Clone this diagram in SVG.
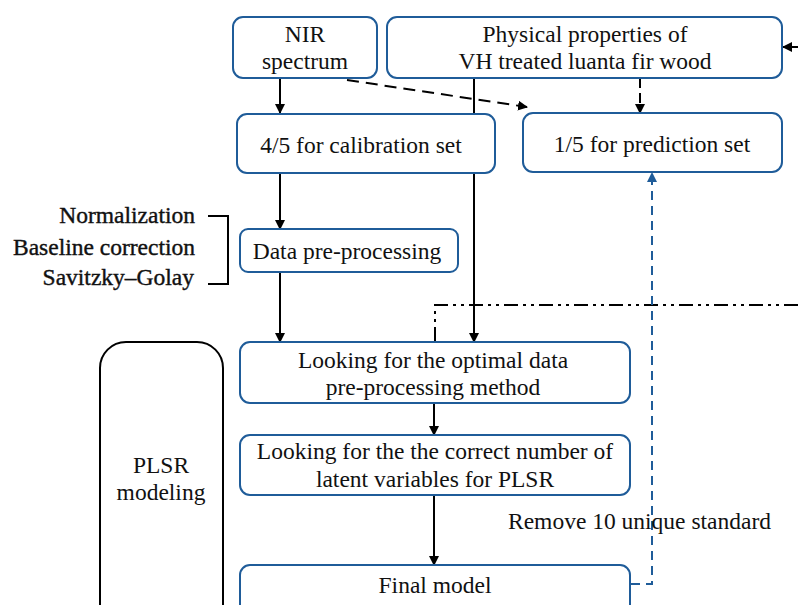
<svg xmlns="http://www.w3.org/2000/svg" width="798" height="605" viewBox="0 0 798 605">
<defs>
<style>
.box{fill:#fff;stroke:#1f5c99;stroke-width:2}
.t{font-family:"Liberation Serif",serif;font-size:23.5px;fill:#111}
.c{text-anchor:middle}
.r{text-anchor:end;stroke:#111;stroke-width:0.4}
.ln{fill:none;stroke:#000;stroke-width:2}
.bl{fill:none;stroke:#1f5c99;stroke-width:2;stroke-dasharray:9,6}
</style>
<marker id="ah" markerWidth="10" markerHeight="10" refX="9" refY="5" orient="auto" markerUnits="userSpaceOnUse">
<path d="M0,0 L10,5 L0,10 z" fill="#000"/>
</marker>
<marker id="ahb" markerWidth="10" markerHeight="10" refX="9" refY="5" orient="auto" markerUnits="userSpaceOnUse">
<path d="M0,0 L10,5 L0,10 z" fill="#1f5c99"/>
</marker>
</defs>
<g id="connectors">
<path class="ln" d="M280,78 V113" marker-end="url(#ah)"/>
<path class="ln" d="M474,78 V342" marker-end="url(#ah)"/>
<path class="ln" d="M347,80 L527,107" stroke-dasharray="12,7" marker-end="url(#ah)"/>
<path class="ln" d="M640,78 V113" stroke-dasharray="10,5" marker-end="url(#ah)"/>
<path class="ln" d="M798,47 H783" marker-end="url(#ah)"/>
<path class="ln" d="M280,173 V229" marker-end="url(#ah)"/>
<path class="ln" d="M280,272 V342" marker-end="url(#ah)"/>
<path class="ln" d="M208,216 H228 V284 H208"/>
<path class="ln" d="M798,305 H435 V342" stroke-dasharray="14,5,3,5,3,5"/>
<path class="ln" d="M434,403 V435" marker-end="url(#ah)"/>
<path class="ln" d="M434,495 V565" marker-end="url(#ah)"/>
<path class="bl" d="M631,584 H652 V173" marker-end="url(#ahb)"/>
</g>
<g id="nir"><rect class="box" x="233" y="17" width="144" height="61" rx="10"/>
<text class="t c" x="305" y="42">NIR</text><text class="t c" x="305" y="69">spectrum</text></g>
<g id="physical"><rect class="box" x="387" y="17" width="395" height="61" rx="10"/>
<text class="t c" x="585" y="42">Physical properties of</text><text class="t c" x="585" y="69">VH treated luanta fir wood</text></g>
<g id="calib"><rect class="box" x="237" y="114" width="258" height="59" rx="10"/>
<text class="t c" x="361" y="153">4/5 for calibration set</text></g>
<g id="pred"><rect class="box" x="523" y="113" width="259" height="59" rx="10"/>
<text class="t c" x="652" y="152">1/5 for prediction set</text></g>
<g id="preproc"><rect class="box" x="240" y="229" width="218" height="43" rx="8"/>
<text class="t c" x="347" y="259">Data pre-processing</text></g>
<g id="methods">
<text class="t r" x="195" y="223">Normalization</text>
<text class="t r" x="195" y="255">Baseline correction</text>
<text class="t r" x="194" y="285">Savitzky–Golay</text></g>
<g id="optimal"><rect class="box" x="240" y="342" width="390" height="61" rx="10"/>
<text class="t c" x="433" y="368">Looking for the optimal data</text><text class="t c" x="433" y="395">pre-processing method</text></g>
<g id="latent"><rect class="box" x="240" y="435" width="390" height="60" rx="10"/>
<text class="t c" x="435" y="459">Looking for the the correct number of</text><text class="t c" x="435" y="487">latent variables for PLSR</text></g>
<g id="final"><rect class="box" x="240" y="565" width="390" height="60" rx="10"/>
<text class="t c" x="435" y="593">Final model</text></g>
<g id="plsr"><rect x="100" y="342" width="123" height="290" rx="26" fill="none" stroke="#000" stroke-width="2"/>
<text class="t c" x="161" y="473">PLSR</text><text class="t c" x="161" y="500">modeling</text></g>
<g id="remove"><text class="t" x="508" y="529">Remove 10 unique standard</text></g>
</svg>
